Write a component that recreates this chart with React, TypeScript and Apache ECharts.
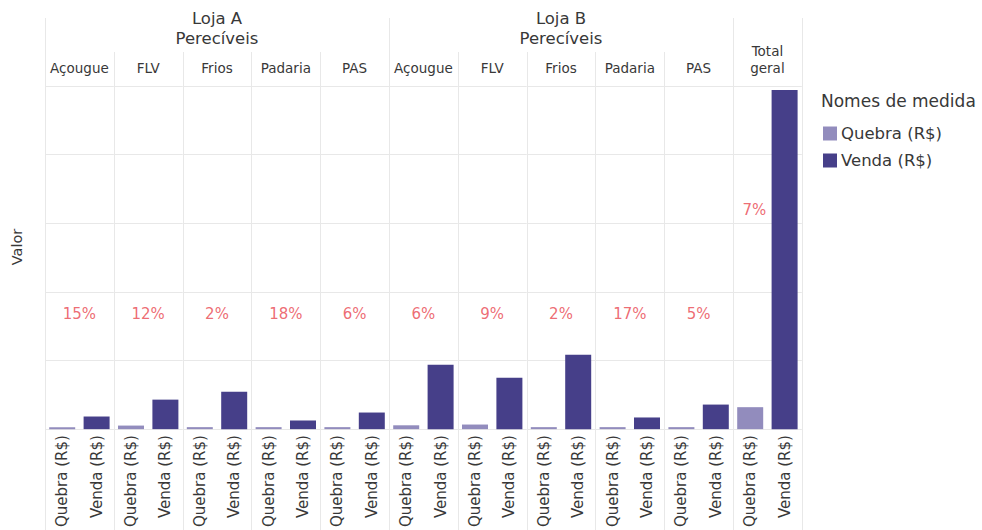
import React, { useEffect, useRef } from "react";
import * as echarts from "echarts";

// ---- data ----
const groupNames = ["Loja A\nPerecíveis", "Loja B\nPerecíveis"];
const panelNames = ["Açougue", "FLV", "Frios", "Padaria", "PAS", "Açougue", "FLV", "Frios", "Padaria", "PAS", "Total\ngeral"];
const measures = ["Quebra (R$)", "Venda (R$)"];
const quebra = [2.8, 5.2, 1.1, 2.3, 1.5, 5.6, 6.7, 2.2, 2.9, 1.8, 32];
const venda = [18.4, 43, 54.6, 12.6, 24.2, 93.8, 74.9, 108.3, 17, 35.8, 494];
const pctLabels = ["15%", "12%", "2%", "18%", "6%", "6%", "9%", "2%", "17%", "5%", "7%"];
const pctLevel = [168, 168, 168, 168, 168, 168, 168, 168, 168, 168, 320];

// ---- layout / style ----
const PLOT_LEFT = 45;
const PANEL_W = 68.8;
const PLOT_TOP = 86;
const PLOT_H = 345;
const LINE = "#e8e8e8";
const TXT = "#383838";
const C_Q = "#928cbd";
const C_V = "#463f89";
const RED = "#e9464f";
const FONT = "DejaVu Sans";

export default function App() {
  const ref = useRef<HTMLDivElement>(null);
  useEffect(() => {
    if (!ref.current) return;
    const chart = echarts.init(ref.current, null, { renderer: "svg" });
    const n = panelNames.length;
    const grids: any[] = [];
    const xAxes: any[] = [];
    const yAxes: any[] = [];
    const series: any[] = [];
    for (let i = 0; i < n; i++) {
      const left = PLOT_LEFT + i * PANEL_W;
      grids.push({ left, top: PLOT_TOP, width: PANEL_W, height: PLOT_H, containLabel: false });
      xAxes.push({
        type: "category",
        gridIndex: i,
        data: measures,
        axisLine: { show: false },
        axisTick: { show: false },
        axisLabel: { rotate: 90, fontSize: 15, color: TXT, margin: 6, fontFamily: FONT, interval: 0 },
      });
      xAxes.push({
        type: "value",
        gridIndex: i,
        position: "top",
        min: 0,
        max: 1,
        axisLine: { show: false },
        axisTick: { show: false },
        axisLabel: { show: false },
        splitLine: { show: false },
        name: panelNames[i],
        nameLocation: "middle",
        nameGap: 10,
        nameTextStyle: { fontSize: 13.5, color: TXT, fontFamily: FONT, lineHeight: 17, verticalAlign: "bottom" },
      });
      yAxes.push({
        type: "value",
        gridIndex: i,
        min: 0,
        max: 500,
        interval: 100,
        axisLine: { show: false },
        axisTick: { show: false },
        axisLabel: { show: false },
        splitLine: { show: true, lineStyle: { color: LINE, width: 1 } },
      });
      series.push({
        name: measures[0],
        type: "bar",
        xAxisIndex: i * 2,
        yAxisIndex: i,
        data: [quebra[i], "-"],
        barWidth: 26,
        barGap: "-100%",
        barMinHeight: 2,
        itemStyle: { color: C_Q },
      });
      series.push({
        name: measures[1],
        type: "bar",
        xAxisIndex: i * 2,
        yAxisIndex: i,
        data: ["-", venda[i]],
        barWidth: 26,
        barGap: "-100%",
        itemStyle: { color: C_V },
      });
      series.push({
        type: "scatter",
        xAxisIndex: i * 2 + 1,
        yAxisIndex: i,
        symbolSize: 0,
        silent: true,
        data: [[0.5, pctLevel[i]]],
        label: {
          show: true,
          position: "inside",
          formatter: pctLabels[i],
          color: RED,
          fontSize: 15,
          fontFamily: FONT,
          offset: i === n - 1 ? [-13, 0] : [0, 0],
        },
      });
    }

    const graphics: any[] = [];
    for (let i = 0; i <= n; i++) {
      const x = Math.round(PLOT_LEFT + i * PANEL_W) + 0.5;
      const top = i % 5 === 0 || i === n ? 18 : 52;
      graphics.push({
        type: "line",
        shape: { x1: x, y1: top, x2: x, y2: 530 },
        style: { stroke: LINE, lineWidth: 1 },
        silent: true,
      });
    }
    groupNames.forEach((g, gi) => {
      graphics.push({
        type: "text",
        x: PLOT_LEFT + (gi * 5 + 2.5) * PANEL_W,
        y: 8,
        style: { text: g, fontSize: 16.5, fill: TXT, fontFamily: FONT, align: "center", verticalAlign: "top", lineHeight: 20 },
      });
    });
    graphics.push({
      type: "text",
      x: 17,
      y: 247,
      rotation: Math.PI / 2,
      style: { text: "Valor", fontSize: 14.5, fill: TXT, fontFamily: FONT, align: "center", verticalAlign: "middle" },
    });

    chart.setOption({
      animation: false,
      backgroundColor: "#ffffff",
      textStyle: { fontFamily: FONT },
      title: {
        text: "Nomes de medida",
        left: 821,
        top: 92,
        padding: 0,
        textStyle: { fontSize: 17, fontWeight: "normal", color: TXT, fontFamily: FONT },
      },
      legend: {
        data: measures,
        orient: "vertical",
        left: 823,
        top: 125,
        padding: 0,
        icon: "rect",
        itemWidth: 14,
        itemHeight: 14,
        itemGap: 10,
        textStyle: { fontSize: 16.5, color: TXT, fontFamily: FONT, padding: [0, 0, 0, -1] },
        selectedMode: false,
      },
      grid: grids,
      xAxis: xAxes,
      yAxis: yAxes,
      series,
      graphic: graphics,
    });
    return () => chart.dispose();
  }, []);
  return <div ref={ref} style={{ position: "fixed", left: 0, top: 0, width: 982, height: 530, background: "#fff" }} />;
}
